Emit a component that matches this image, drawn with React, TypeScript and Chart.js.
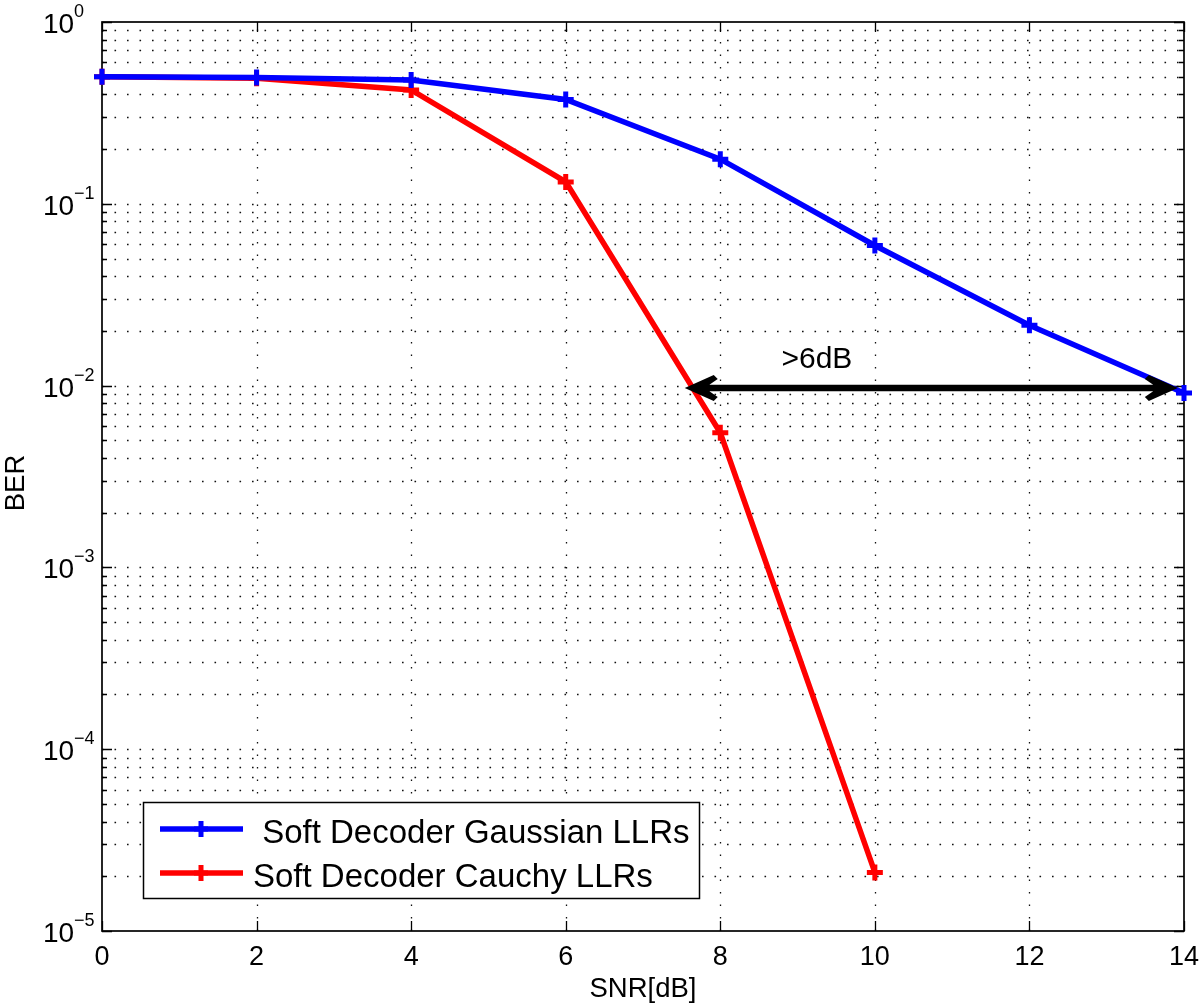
import React, { useEffect, useRef } from "react";
import { Chart, registerables } from "chart.js";

Chart.register(...registerables);

// ---- data ----
const SNR_DB = [0, 2, 4, 6, 8, 10, 12, 14];
const GAUSSIAN_BER = [0.5, 0.495, 0.48, 0.375, 0.176, 0.059, 0.0215, 0.0091];
const CAUCHY_SNR_DB = [0, 2, 4, 6, 8, 10];
const CAUCHY_BER = [0.5, 0.49, 0.423, 0.132, 0.0055, 0.000021];
const X_TICKS = [0, 2, 4, 6, 8, 10, 12, 14];
const Y_DECADE_EXPONENTS = [0, -1, -2, -3, -4, -5];
const LEGEND_LABELS = [" Soft Decoder Gaussian LLRs", "Soft Decoder Cauchy LLRs"];
const SERIES_COLORS = ["#0000ff", "#ff0000"];
const X_TITLE = "SNR[dB]";
const Y_TITLE = "BER";
const ARROW_FROM_SNR = 7.54;
const ARROW_TO_SNR = 13.92;
const ARROW_BER = 0.0097;
const ANNOTATION_TEXT = ">6dB";
const ANNOTATION_SNR = 9.25;
const ANNOTATION_BER = 0.0125;

const FONT = '"Liberation Sans", Arial, Helvetica, sans-serif';

const matlabPlugin = {
  id: "matlabAxes",
  beforeDatasetsDraw(chart: any) {
    const { ctx, chartArea: a } = chart;
    const xs = chart.scales.x;
    const ys = chart.scales.y;
    ctx.save();
    // dotted grid
    ctx.strokeStyle = "#111";
    ctx.lineWidth = 1.3;
    ctx.setLineDash([1.6, 10.9]);
    for (const v of X_TICKS) {
      if (v === X_TICKS[0] || v === X_TICKS[X_TICKS.length - 1]) continue;
      const px = Math.round(xs.getPixelForValue(v)) + 0.5;
      ctx.beginPath();
      ctx.moveTo(px, a.bottom);
      ctx.lineTo(px, a.top);
      ctx.stroke();
    }
    const minExp = Math.min(...Y_DECADE_EXPONENTS);
    const maxExp = Math.max(...Y_DECADE_EXPONENTS);
    for (let e = minExp; e < maxExp; e++) {
      for (let m = 1; m <= 9; m++) {
        if (e === minExp && m === 1) continue;
        const py = Math.round(ys.getPixelForValue(m * Math.pow(10, e))) + 0.5;
        ctx.beginPath();
        ctx.moveTo(a.left, py);
        ctx.lineTo(a.right, py);
        ctx.stroke();
      }
    }
    ctx.setLineDash([]);
    // tick marks (inward)
    ctx.strokeStyle = "#000";
    ctx.lineWidth = 1.3;
    for (let e = minExp; e <= maxExp; e++) {
      for (let m = 1; m <= 9; m++) {
        if (e === maxExp && m > 1) break;
        const py = Math.round(ys.getPixelForValue(m * Math.pow(10, e))) + 0.5;
        const len = m === 1 ? 10 : 5;
        ctx.beginPath();
        ctx.moveTo(a.left, py);
        ctx.lineTo(a.left + len, py);
        ctx.moveTo(a.right, py);
        ctx.lineTo(a.right - len, py);
        ctx.stroke();
      }
    }
    for (const v of X_TICKS) {
      const px = Math.round(xs.getPixelForValue(v)) + 0.5;
      ctx.beginPath();
      ctx.moveTo(px, a.bottom);
      ctx.lineTo(px, a.bottom - 10);
      ctx.moveTo(px, a.top);
      ctx.lineTo(px, a.top + 10);
      ctx.stroke();
    }
    // box
    ctx.lineWidth = 1.7;
    ctx.strokeRect(a.left, a.top, a.right - a.left, a.bottom - a.top);
    ctx.restore();
  },
  afterDatasetsDraw(chart: any) {
    const { ctx, chartArea: a } = chart;
    const xs = chart.scales.x;
    const ys = chart.scales.y;
    ctx.save();
    ctx.fillStyle = "#000";
    // x tick labels
    ctx.font = `27px ${FONT}`;
    ctx.textAlign = "center";
    ctx.textBaseline = "alphabetic";
    for (const v of X_TICKS) {
      ctx.fillText(String(v), xs.getPixelForValue(v), a.bottom + 34);
    }
    // y tick labels 10^e
    for (const e of Y_DECADE_EXPONENTS) {
      const py = ys.getPixelForValue(Math.pow(10, e));
      ctx.textAlign = "left";
      ctx.font = `28px ${FONT}`;
      ctx.fillText("10", 43, py + 11);
      ctx.font = `18px ${FONT}`;
      ctx.fillText(e === 0 ? "0" : "\u2212" + String(-e), 74, py - 5);
    }
    // axis titles
    ctx.font = `27.5px ${FONT}`;
    ctx.textAlign = "center";
    ctx.fillText(X_TITLE, (a.left + a.right) / 2, 997);
    ctx.save();
    ctx.translate(24, 483);
    ctx.rotate(-Math.PI / 2);
    ctx.fillText(Y_TITLE, 0, 0);
    ctx.restore();

    // arrow
    const x0 = xs.getPixelForValue(ARROW_FROM_SNR);
    const x1 = xs.getPixelForValue(ARROW_TO_SNR);
    const ay = ys.getPixelForValue(ARROW_BER);
    ctx.strokeStyle = "#000";
    ctx.lineWidth = 6.5;
    ctx.beginPath();
    ctx.moveTo(x0 + 20, ay);
    ctx.lineTo(x1 - 20, ay);
    ctx.stroke();
    const head = (tip: number, dir: number) => {
      const L = 33;
      const W = 13;
      ctx.beginPath();
      ctx.moveTo(tip, ay);
      ctx.lineTo(tip + dir * (L - 4), ay - W);
      ctx.lineTo(tip + dir * L, ay - W + 4);
      ctx.lineTo(tip + dir * (L - 8), ay - 3.5);
      ctx.lineTo(tip + dir * (L - 8), ay + 3.5);
      ctx.lineTo(tip + dir * L, ay + W - 4);
      ctx.lineTo(tip + dir * (L - 4), ay + W);
      ctx.closePath();
      ctx.fillStyle = "#000";
      ctx.fill();
    };
    head(x0, 1);
    head(x1, -1);
    // annotation
    ctx.font = `30px ${FONT}`;
    ctx.textAlign = "center";
    ctx.fillText(ANNOTATION_TEXT, xs.getPixelForValue(ANNOTATION_SNR), ys.getPixelForValue(ANNOTATION_BER));

    // legend
    const lx = 143, ly = 802, lw = 556, lh = 96;
    ctx.fillStyle = "#fff";
    ctx.fillRect(lx, ly, lw, lh);
    ctx.strokeStyle = "#000";
    ctx.lineWidth = 1.5;
    ctx.strokeRect(lx + 0.5, ly + 0.5, lw, lh);
    const rows = [829, 873];
    LEGEND_LABELS.forEach((label, i) => {
      const ry = rows[i];
      ctx.strokeStyle = SERIES_COLORS[i];
      ctx.lineWidth = 5.5;
      ctx.beginPath();
      ctx.moveTo(160, ry);
      ctx.lineTo(243, ry);
      ctx.stroke();
      ctx.lineWidth = 5;
      ctx.beginPath();
      ctx.moveTo(201, ry - 8);
      ctx.lineTo(201, ry + 8);
      ctx.moveTo(194, ry);
      ctx.lineTo(208, ry);
      ctx.stroke();
      ctx.fillStyle = "#000";
      ctx.font = `33px ${FONT}`;
      ctx.textAlign = "left";
      ctx.textBaseline = "alphabetic";
      ctx.fillText(label, 253, ry + 14);
    });
    ctx.restore();
  },
};

export default function App() {
  const ref = useRef<HTMLCanvasElement | null>(null);
  useEffect(() => {
    if (!ref.current) return;
    const chart = new Chart(ref.current, {
      type: "line",
      data: {
        datasets: [
          {
            label: LEGEND_LABELS[0],
            data: SNR_DB.map((x, i) => ({ x, y: GAUSSIAN_BER[i] })),
            borderColor: SERIES_COLORS[0],
            backgroundColor: SERIES_COLORS[0],
            borderWidth: 5.5,
            pointStyle: "cross",
            pointRadius: 8,
            pointBorderWidth: 5,
            pointBorderColor: SERIES_COLORS[0],
            tension: 0,
            clip: false,
          },
          {
            label: LEGEND_LABELS[1],
            data: CAUCHY_SNR_DB.map((x, i) => ({ x, y: CAUCHY_BER[i] })),
            borderColor: SERIES_COLORS[1],
            backgroundColor: SERIES_COLORS[1],
            borderWidth: 5.5,
            pointStyle: "cross",
            pointRadius: 8,
            pointBorderWidth: 5,
            pointBorderColor: SERIES_COLORS[1],
            tension: 0,
            clip: false,
          },
        ],
      },
      options: {
        animation: false,
        responsive: false,
        devicePixelRatio: 1,
        layout: { padding: { left: 102, right: 16, top: 22, bottom: 73 } },
        plugins: { legend: { display: false }, tooltip: { enabled: false } },
        scales: {
          x: { type: "linear", min: 0, max: 14, display: false },
          y: { type: "logarithmic", min: 1e-5, max: 1, display: false },
        },
      },
      plugins: [matlabPlugin],
    } as any);
    return () => chart.destroy();
  }, []);
  return (
    <div style={{ position: "absolute", left: 0, top: 0, width: 1200, height: 1004, background: "#fff" }}>
      <canvas ref={ref} width={1200} height={1004} />
    </div>
  );
}
